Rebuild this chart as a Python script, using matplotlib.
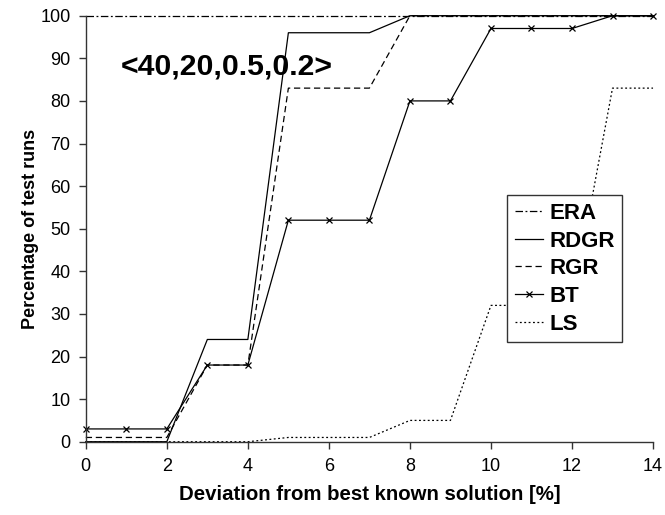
import matplotlib
matplotlib.use("Agg")
import matplotlib.pyplot as plt

plt.rcParams['font.family'] = ['Liberation Sans', 'DejaVu Sans']

# deviation from best known solution [%]
x = list(range(15))

era = [100] * 15
rdgr = [0, 0, 0, 24, 24, 96, 96, 96, 100, 100, 100, 100, 100, 100, 100]
rgr = [1, 1, 1, 18, 18, 83, 83, 83, 100, 100, 100, 100, 100, 100, 100]
bt = [3, 3, 3, 18, 18, 52, 52, 52, 80, 80, 97, 97, 97, 100, 100]
ls = [0, 0, 0, 0, 0, 1, 1, 1, 5, 5, 32, 32, 32, 83, 83]

fig = plt.figure(figsize=(6.65, 5.15), dpi=100)
ax = fig.add_axes([0.129, 0.1423, 0.853, 0.8272])

ax.plot(x, era, color='black', lw=0.9, linestyle=(0, (6, 2, 1.5, 2)), label='ERA', clip_on=False)
ax.plot(x, rdgr, color='black', lw=0.9, linestyle='-', label='RDGR', clip_on=False)
ax.plot(x, rgr, color='black', lw=0.9, linestyle=(0, (5, 3)), label='RGR', clip_on=False)
ax.plot(x, bt, color='black', lw=0.9, linestyle='-', marker='x', markersize=5,
        markeredgewidth=0.9, label='BT', clip_on=False)
ax.plot(x, ls, color='black', lw=0.9, linestyle=(0, (1.5, 2)), label='LS', clip_on=False)

ax.set_xlim(0, 14)
ax.set_ylim(0, 100)
ax.set_xticks(range(0, 15, 2))
ax.set_yticks(range(0, 101, 10))
ax.tick_params(direction='out', length=5, width=1, labelsize=13, color='#333333')
ax.tick_params(axis='x', pad=7)
ax.tick_params(axis='y', pad=6)

for side in ['top', 'right']:
    ax.spines[side].set_visible(False)
for side in ['left', 'bottom']:
    ax.spines[side].set_color('#333333')
    ax.spines[side].set_linewidth(1)

ax.set_xlabel('Deviation from best known solution [%]', fontsize=14.7, fontweight='bold', labelpad=7)
ax.set_ylabel('Percentage of test runs', fontsize=13, fontweight='bold', labelpad=1)

ax.text(3.48, 88, '<40,20,0.5,0.2>', fontsize=21.7, fontweight='bold', ha='center', va='center')

leg = ax.legend(loc='upper left', bbox_to_anchor=(0.7425, 0.579), borderaxespad=0,
                frameon=True, fancybox=False, edgecolor='#333333', framealpha=1,
                handlelength=1.25, handletextpad=0.3, borderpad=0.35, labelspacing=0.3,
                numpoints=1, prop={'weight': 'bold', 'size': 16})
leg.get_frame().set_linewidth(1)

fig.savefig('out.png', dpi=100)
